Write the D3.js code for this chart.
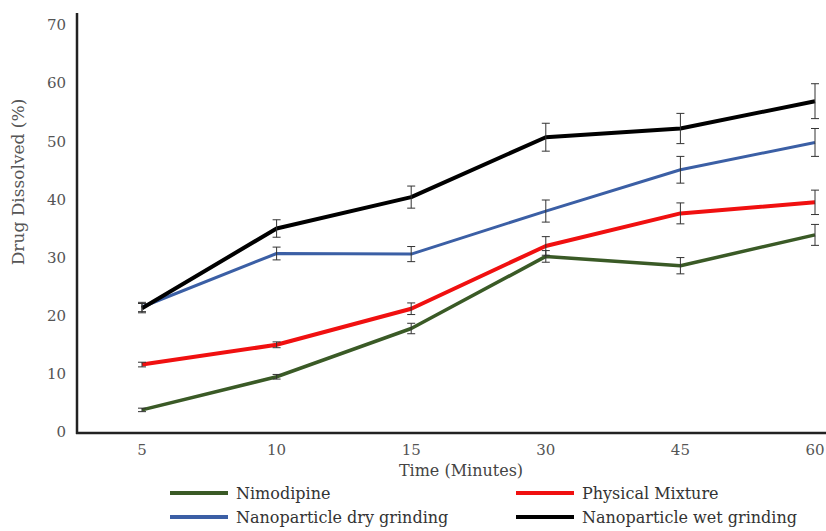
<!DOCTYPE html>
<html lang="en">
<head>
<meta charset="utf-8">
<title>Drug dissolved</title>
<script src="https://cdnjs.cloudflare.com/ajax/libs/d3/7.8.5/d3.min.js"></script>
<style>
  body { margin: 0; background: #fff; }
  text { font-family: "DejaVu Serif", "Liberation Serif", serif; }
</style>
</head>
<body>
<script>
// categories (minutes)
var times = ["5", "10", "15", "30", "45", "60"];
var yTicks = [0, 10, 20, 30, 40, 50, 60, 70];

// series values (% dissolved) and error bars
var nimodipine = [3.8, 9.5, 17.8, 30.2, 28.6, 33.9];
var nimodipineErr = [0.3, 0.4, 0.9, 1.0, 1.4, 1.8];
var physical = [11.6, 15.0, 21.2, 32.0, 37.6, 39.5];
var physicalErr = [0.4, 0.5, 1.0, 1.6, 1.8, 2.1];
var dryGrinding = [21.5, 30.7, 30.6, 38.0, 45.1, 49.8];
var dryGrindingErr = [0.8, 1.1, 1.3, 1.9, 2.3, 2.4];
var wetGrinding = [21.3, 35.0, 40.4, 50.7, 52.2, 56.9];
var wetGrindingErr = [0.8, 1.5, 1.9, 2.4, 2.6, 3.0];

var series = [
  { name: "Nimodipine", values: nimodipine, err: nimodipineErr, color: "#3a5a26", width: 3.5 },
  { name: "Physical Mixture", values: physical, err: physicalErr, color: "#f01010", width: 4 },
  { name: "Nanoparticle dry grinding", values: dryGrinding, err: dryGrindingErr, color: "#3b5fa5", width: 3 },
  { name: "Nanoparticle wet grinding", values: wetGrinding, err: wetGrindingErr, color: "#000000", width: 4 }
];

var w = 826, h = 531;

var svg = d3.select("body").append("svg")
  .attr("width", w)
  .attr("height", h);

var x = d3.scalePoint().domain(times).range([142, 815]);
var y = d3.scaleLinear().domain([0, 70]).range([432, 25]);

// y tick labels
svg.selectAll("text.ytick")
  .data(yTicks)
  .enter()
  .append("text")
  .attr("class", "ytick")
  .attr("x", 66)
  .attr("y", function(d) { return y(d); })
  .attr("dy", "0.35em")
  .attr("text-anchor", "end")
  .style("font-size", "15px")
  .attr("fill", "#555")
  .text(function(d) { return d; });

// x tick labels
svg.selectAll("text.xtick")
  .data(times)
  .enter()
  .append("text")
  .attr("class", "xtick")
  .attr("x", function(d) { return x(d); })
  .attr("y", 455)
  .attr("text-anchor", "middle")
  .style("font-size", "15px")
  .attr("fill", "#555")
  .text(function(d) { return d; });

// axis titles
svg.append("text")
  .attr("transform", "translate(24,182) rotate(-90)")
  .attr("text-anchor", "middle")
  .style("font-size", "17px")
  .attr("fill", "#555")
  .text("Drug Dissolved (%)");

svg.append("text")
  .attr("x", 461)
  .attr("y", 476)
  .attr("text-anchor", "middle")
  .style("font-size", "16px")
  .attr("fill", "#444")
  .text("Time (Minutes)");

var line = d3.line()
  .x(function(d, i) { return x(times[i]); })
  .y(function(d) { return y(d); });

// lines
svg.selectAll("path.series")
  .data(series)
  .enter()
  .append("path")
  .attr("class", "series")
  .attr("fill", "none")
  .attr("stroke", function(d) { return d.color; })
  .attr("stroke-width", function(d) { return d.width; })
  .attr("stroke-linejoin", "round")
  .attr("d", function(d) { return line(d.values); });

// error bars
series.forEach(function(s) {
  var g = svg.append("g")
    .attr("stroke", "#333")
    .attr("stroke-width", 1);
  s.values.forEach(function(v, i) {
    var cx = x(times[i]);
    var top = y(v + s.err[i]), bot = y(v - s.err[i]);
    g.append("line").attr("x1", cx).attr("x2", cx).attr("y1", top).attr("y2", bot);
    g.append("line").attr("x1", cx - 4).attr("x2", cx + 4).attr("y1", top).attr("y2", top);
    g.append("line").attr("x1", cx - 4).attr("x2", cx + 4).attr("y1", bot).attr("y2", bot);
  });
});

// axes lines
svg.append("line")
  .attr("x1", 77).attr("x2", 77)
  .attr("y1", 13).attr("y2", 434)
  .attr("stroke", "#222").attr("stroke-width", 2.5);
svg.append("line")
  .attr("x1", 76).attr("x2", 826)
  .attr("y1", 433).attr("y2", 433)
  .attr("stroke", "#222").attr("stroke-width", 2.5);

// legend
var legendPos = [[170, 493], [516, 493], [170, 517], [516, 517]];
var legendOrder = [0, 1, 2, 3];
var leg = svg.selectAll("g.legend")
  .data(legendOrder)
  .enter()
  .append("g")
  .attr("class", "legend")
  .attr("transform", function(d, i) { return "translate(" + legendPos[i][0] + "," + legendPos[i][1] + ")"; });

leg.append("line")
  .attr("x1", 0).attr("x2", 58)
  .attr("stroke", function(d) { return series[d].color; })
  .attr("stroke-width", 4);

leg.append("text")
  .attr("x", 66)
  .attr("dy", "0.35em")
  .style("font-size", "16px")
  .attr("fill", "#333")
  .text(function(d) { return series[d].name; });
</script>
</body>
</html>
